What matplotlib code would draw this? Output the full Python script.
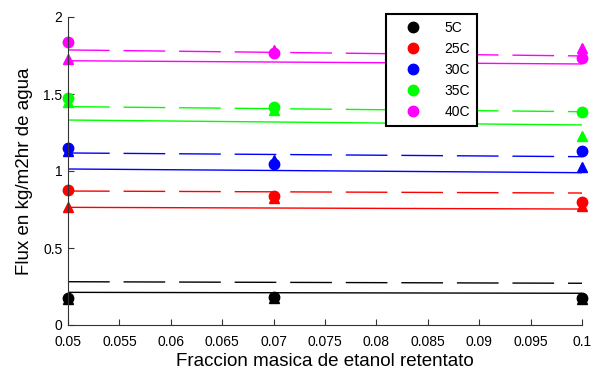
import matplotlib
matplotlib.use("Agg")
import matplotlib.pyplot as plt
import numpy as np

# fraccion masica de etanol en el retentato
x_exp = [0.05, 0.07, 0.1]
x_fit = [0.05, 0.1]

series = ["5C", "25C", "30C", "35C", "40C"]
colores = ["black", "red", "blue", "#00ff00", "magenta"]

# flux experimental (circulos)
flux_circ = [
    [0.175, 0.182, 0.175],
    [0.877, 0.838, 0.800],
    [1.149, 1.045, 1.130],
    [1.474, 1.416, 1.383],
    [1.840, 1.766, 1.734],
]
# flux modelo (triangulos)
flux_tri = [
    [0.172, 0.178, 0.172],
    [0.768, 0.825, 0.775],
    [1.130, 1.070, 1.026],
    [1.450, 1.396, 1.227],
    [1.727, 1.786, 1.800],
]
# rectas ajustadas (extremos)
recta_dash = [
    [0.281, 0.271],
    [0.870, 0.857],
    [1.117, 1.093],
    [1.418, 1.385],
    [1.786, 1.747],
]
recta_sol = [
    [0.212, 0.206],
    [0.764, 0.753],
    [1.013, 0.989],
    [1.331, 1.299],
    [1.716, 1.695],
]

plt.rcParams["font.family"] = ["Liberation Sans", "DejaVu Sans"]

fig = plt.figure(figsize=(5.93, 3.74), dpi=100)
ax = fig.add_axes([68/593, 49/374, 514/593, 308/374])

for i in range(len(series)):
    ax.plot(x_fit, recta_dash[i], color=colores[i], lw=1.0, dashes=(30, 10))
    ax.plot(x_fit, recta_sol[i], color=colores[i], lw=1.0)
    ax.plot(x_exp, flux_tri[i], linestyle="none", marker="^", ms=7.5,
            color=colores[i], clip_on=False)
    ax.plot(x_exp, flux_circ[i], linestyle="none", marker="o", ms=7.5,
            color=colores[i], clip_on=False, label=series[i])

ax.set_xlim(0.05, 0.1)
ax.set_ylim(0, 2)
ax.set_xticks(np.arange(0.05, 0.1001, 0.005))
ax.set_xticklabels(["0.05", "0.055", "0.06", "0.065", "0.07", "0.075",
                    "0.08", "0.085", "0.09", "0.095", "0.1"])
ax.set_yticks([0, 0.5, 1, 1.5, 2])
ax.set_yticklabels(["0", "0.5", "1", "1.5", "2"])
ax.tick_params(direction="in", length=4, labelsize=10, color="#333333")
ax.tick_params(axis="x", pad=7)
ax.tick_params(axis="y", pad=4)
ax.spines["top"].set_visible(False)
ax.spines["right"].set_visible(False)
for s in ["left", "bottom"]:
    ax.spines[s].set_color("#333333")

ax.set_xlabel("Fraccion masica de etanol retentato", fontsize=13.5, labelpad=3)
ax.set_ylabel("Flux en kg/m2hr de agua", fontsize=13.5, labelpad=7)

leg = fig.legend(loc="upper left", bbox_to_anchor=(386/593, 360/374),
                 borderaxespad=0, fancybox=False, edgecolor="black",
                 fontsize=10, handletextpad=0.8, labelspacing=0.5,
                 borderpad=0.5, handlelength=2.9, framealpha=1)
leg.get_frame().set_linewidth(1.5)

fig.savefig("out.png", dpi=100)
